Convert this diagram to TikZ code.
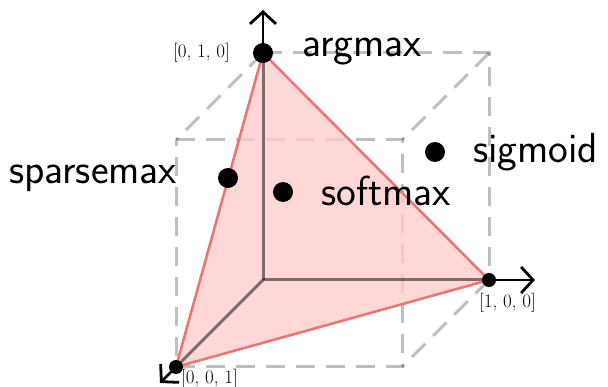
\documentclass[tikz,border=0pt]{standalone}
\usetikzlibrary{arrows.meta}
\definecolor{trifill}{RGB}{255,202,202}
\definecolor{triedge}{RGB}{232,120,120}
\begin{document}
\begin{tikzpicture}[x=1pt,y=-1pt,
  cube/.style={black,opacity=0.25,line width=3pt,dash pattern=on 19pt off 11pt},
  inaxis/.style={black,opacity=0.5,line width=3pt},
  outaxis/.style={black,line width=2.8pt,-{Straight Barb[length=12pt,width=26pt,line width=2.8pt]}},
  bigdot/.style={circle,fill=black,inner sep=0pt,minimum size=20pt},
  smalldot/.style={circle,fill=black,inner sep=0pt,minimum size=14pt},
  lab/.style={font=\fontsize{42}{50}\selectfont\sffamily,inner sep=0pt},
  vlab/.style={font=\fontsize{19}{22}\selectfont,inner sep=0pt}]
\useasboundingbox (0,0) rectangle (608,387);
% vertices
\coordinate (O) at (263,280);
\coordinate (X) at (489,280);
\coordinate (Y) at (263,53);
\coordinate (Z) at (176,367);
\coordinate (XY) at (489,53);
\coordinate (YZ) at (176,140);
\coordinate (XZ) at (402,367);
\coordinate (XYZ) at (402,140);
\coordinate (Xtip) at (535,280);
\coordinate (Ytip) at (263,10);
\coordinate (Ztip) at (160,383);
% dashed cube
\draw[cube] (Y) -- (XY) -- (X);
\draw[cube] (Y) -- (YZ);
\draw[cube] (XY) -- (XYZ);
\draw[cube] (X) -- (XZ);
\draw[cube] (YZ) -- (XYZ) -- (XZ) -- (Z) -- cycle;
% triangle fill
\fill[trifill,opacity=0.75] (X) -- (Y) -- (Z) -- cycle;
% axes inside
\draw[inaxis] (O) -- (X);
\draw[inaxis] (O) -- (Y);
\draw[inaxis] (O) -- (Z);
% axes outside
\draw[outaxis] (X) -- (Xtip);
\draw[outaxis] (Y) -- (Ytip);
\draw[outaxis] (Z) -- (Ztip);
% triangle edges
\draw[triedge,line width=2.6pt,line join=round] (X) -- (Y) -- (Z) -- cycle;
% dots
\node[bigdot] (argmax) at (Y) {};
\node[smalldot] (e1) at (X) {};
\node[smalldot] (e3) at (Z) {};
\node[bigdot] (sparse) at (228,178) {};
\node[bigdot] (soft) at (283,192) {};
\node[bigdot] (sig) at (435,152) {};
% labels
\node[lab,anchor=base west] at (302,57) {argmax};
\node[lab,anchor=base west] at (9,184) {sparsemax};
\node[lab,anchor=base west] at (321,206) {softmax};
\node[lab,anchor=base west] at (473,163) {sigmoid};
\node[vlab,anchor=base west] at (173,58) {[0, 1, 0]};
\node[vlab,anchor=base west] at (479,308) {[1, 0, 0]};
\node[vlab,anchor=base west] at (181,384) {[0, 0, 1]};
\end{tikzpicture}
\end{document}
